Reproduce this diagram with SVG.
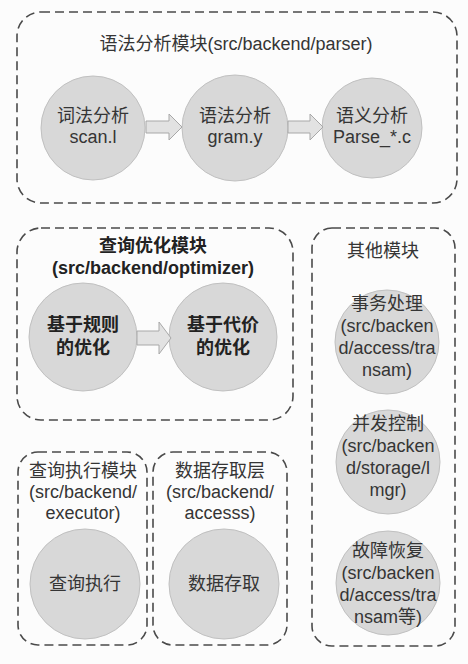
<svg xmlns="http://www.w3.org/2000/svg" width="468" height="664" viewBox="0 0 468 664">
<style>
.box{fill:none;stroke:#4a4a4a;stroke-width:1.6;stroke-dasharray:9 5}
.c{fill:#d8d8d8;stroke:#c0c0c0;stroke-width:1}
.t{font-family:"Liberation Sans","Noto Sans CJK SC",sans-serif;font-size:18px;fill:#353535;text-anchor:middle}
.b{font-weight:bold;fill:#222}
.arr{fill:#e2e2e2;stroke:#a8a8a8;stroke-width:1}
</style>
<rect width="468" height="664" fill="#fcfcfc"/>
<g id="parser-module">
<rect class="box" x="17" y="12" width="440" height="191" rx="24"/>
<text class="t" x="236" y="50">语法分析模块(src/backend/parser)</text>
</g>
<g id="scan">
<circle class="c" cx="93" cy="128" r="52"/>
<text class="t" x="93" y="122">词法分析</text>
<text class="t" x="93" y="143">scan.l</text>
</g>
<g id="gram">
<circle class="c" cx="235" cy="128" r="53"/>
<text class="t" x="235" y="122">语法分析</text>
<text class="t" x="235" y="143">gram.y</text>
</g>
<g id="parse">
<circle class="c" cx="372" cy="128" r="50"/>
<text class="t" x="372" y="122">语义分析</text>
<text class="t" x="372" y="143">Parse_*.c</text>
</g>
<g id="optimizer-module">
<rect class="box" x="17" y="228" width="276" height="192" rx="24"/>
<text class="t b" x="153" y="252">查询优化模块</text>
<text class="t b" x="153" y="274">(src/backend/optimizer)</text>
</g>
<g id="rule-opt">
<circle class="c" cx="83" cy="337" r="54"/>
<text class="t b" x="83" y="331">基于规则</text>
<text class="t b" x="83" y="354">的优化</text>
</g>
<g id="cost-opt">
<circle class="c" cx="223" cy="337" r="54"/>
<text class="t b" x="223" y="331">基于代价</text>
<text class="t b" x="223" y="354">的优化</text>
</g>
<g id="other-module">
<rect class="box" x="312" y="228" width="143" height="418" rx="20"/>
<text class="t" x="383" y="257">其他模块</text>
</g>
<g id="transaction">
<circle class="c" cx="387" cy="342" r="52"/>
<text class="t" x="387" y="310">事务处理</text>
<text class="t" x="387" y="332">(src/backen</text>
<text class="t" x="387" y="354">d/access/tra</text>
<text class="t" x="387" y="376">nsam)</text>
</g>
<g id="concurrency">
<circle class="c" cx="388" cy="462" r="52"/>
<text class="t" x="388" y="430">并发控制</text>
<text class="t" x="388" y="452">(src/backen</text>
<text class="t" x="388" y="474">d/storage/l</text>
<text class="t" x="388" y="496">mgr)</text>
</g>
<g id="recovery">
<circle class="c" cx="388" cy="583" r="52"/>
<text class="t" x="388" y="557">故障恢复</text>
<text class="t" x="388" y="579">(src/backen</text>
<text class="t" x="388" y="601">d/access/tra</text>
<text class="t" x="388" y="623">nsam等)</text>
</g>
<g id="executor-module">
<rect class="box" x="18" y="452" width="129" height="193" rx="20"/>
<text class="t" x="83" y="477">查询执行模块</text>
<text class="t" x="83" y="498">(src/backend/</text>
<text class="t" x="83" y="519">executor)</text>
</g>
<g id="executor">
<circle class="c" cx="85" cy="584" r="55"/>
<text class="t" x="85" y="590">查询执行</text>
</g>
<g id="access-module">
<rect class="box" x="153" y="452" width="134" height="193" rx="20"/>
<text class="t" x="220" y="477">数据存取层</text>
<text class="t" x="220" y="498">(src/backend/</text>
<text class="t" x="220" y="519">accesss)</text>
</g>
<g id="access">
<circle class="c" cx="224" cy="584" r="55"/>
<text class="t" x="224" y="590">数据存取</text>
</g>
<g id="connectors">
<polygon class="arr" points="146,121 169,121 169,114 182,127 169,140 169,133 146,133"/>
<polygon class="arr" points="288,121 310,121 310,114 323,127 310,140 310,133 288,133"/>
<polygon class="arr" points="137,331 159,331 159,322 171,338 159,354 159,345 137,345"/>
</g>
</svg>
